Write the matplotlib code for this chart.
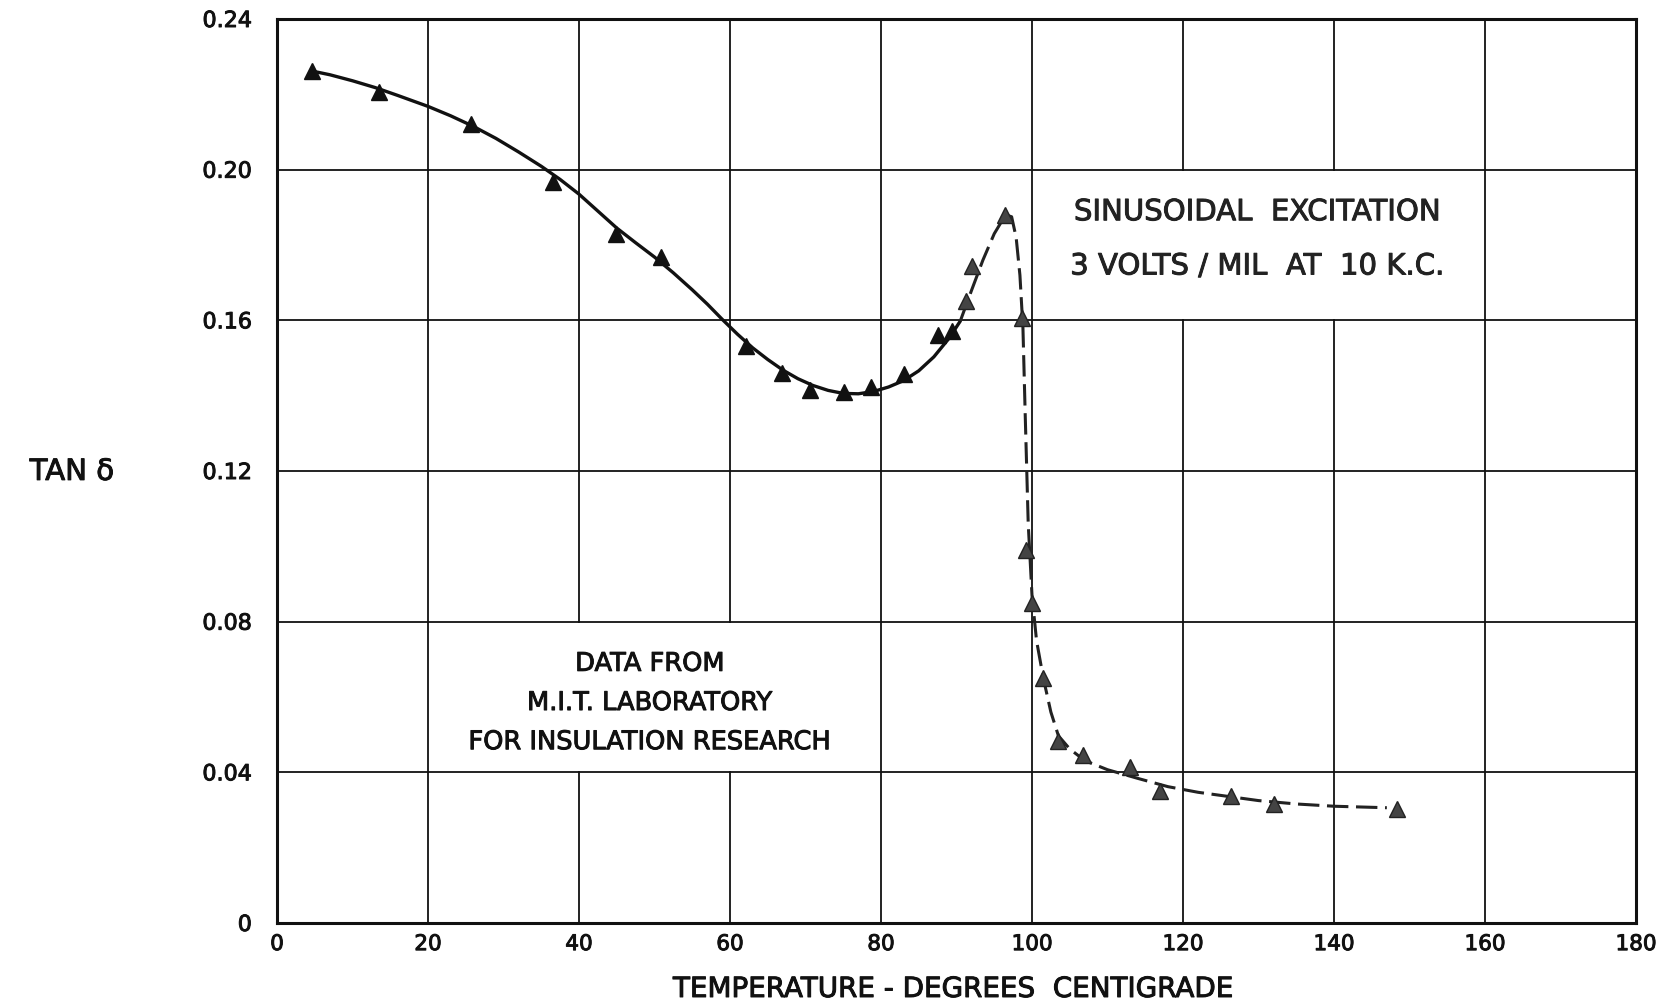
import matplotlib
matplotlib.use("Agg")
import matplotlib.pyplot as plt
from matplotlib.patches import Rectangle
import matplotlib.patheffects as pe

# ---- data ----
temps = [4.6, 13.5, 25.7, 36.6, 44.9, 50.9, 62.1, 66.9, 70.6, 75.1, 78.7, 83.1,
         87.5, 89.4, 91.2, 92.0, 96.4, 98.7, 99.2, 100.0, 101.5, 103.5, 106.8,
         113.0, 117.0, 126.3, 132.0, 148.4]
tan_delta = [0.2262, 0.2207, 0.2122, 0.1966, 0.1830, 0.1768, 0.1533, 0.1460,
             0.1415, 0.1410, 0.1424, 0.1457, 0.1562, 0.1572, 0.1652, 0.1745,
             0.1880, 0.1605, 0.0990, 0.0850, 0.0650, 0.0482, 0.0445, 0.0413,
             0.0350, 0.0336, 0.0317, 0.0302]

# fitted curve as drawn in the original
curve_x = [4.6, 7, 10, 13, 16, 20, 23, 26, 29, 32, 35, 37.5, 40, 42.5, 45, 47.5,
           50, 52.5, 55, 57, 59, 61, 63, 65, 67, 69, 71, 73, 75, 77, 79, 81, 83,
           85, 87, 89, 90.5, 92, 93.5, 95, 96.5, 97.3, 97.9, 98.4, 98.8, 99.1,
           99.5, 100.0, 100.6, 101.5, 102.5, 103.5, 105, 107, 110, 114, 118,
           122, 126, 130, 135, 140, 147]
curve_y = [0.2262, 0.2252, 0.2236, 0.2218, 0.2197, 0.2168, 0.2143, 0.2115,
           0.2083, 0.2047, 0.2009, 0.1974, 0.1935, 0.1890, 0.1845, 0.1806,
           0.1768, 0.1726, 0.1681, 0.1643, 0.1602, 0.1563, 0.1527, 0.1496,
           0.1468, 0.1445, 0.1427, 0.1414, 0.1406, 0.1405, 0.1411, 0.1423,
           0.1440, 0.1466, 0.1503, 0.1552, 0.1598, 0.1680, 0.1760, 0.1830,
           0.1880, 0.1875, 0.1820, 0.1720, 0.1580, 0.1350, 0.1060, 0.0870,
           0.0750, 0.0650, 0.0560, 0.0497, 0.0462, 0.0431, 0.0407, 0.0384,
           0.0362, 0.0347, 0.0336, 0.0325, 0.0316, 0.0310, 0.0306]
split_x = 91.0  # beyond this the original trace is broken / faint

x_ticks = [0, 20, 40, 60, 80, 100, 120, 140, 160, 180]
y_ticks = [0, 0.04, 0.08, 0.12, 0.16, 0.20, 0.24]
y_tick_labels = ["0", "0.04", "0.08", "0.12", "0.16", "0.20", "0.24"]

note1 = ["DATA FROM", "M.I.T. LABORATORY", "FOR INSULATION RESEARCH"]
note2 = ["SINUSOIDAL  EXCITATION", "3 VOLTS / MIL  AT  10 K.C."]

plt.rcParams['font.family'] = ['DejaVu Sans']
INK = '#111111'
thick = [pe.withStroke(linewidth=0.7, foreground=INK)]
thick2 = [pe.withStroke(linewidth=0.7, foreground='#222222')]

fig = plt.figure(figsize=(16.58, 10.03), dpi=100)
ax = fig.add_axes([277/1658, 79/1003, 1359/1658, 904/1003])

ax.set_xlim(0, 180)
ax.set_ylim(0, 0.24)
ax.set_xticks(x_ticks)
ax.set_xticklabels([str(v) for v in x_ticks], fontsize=15.5)
ax.set_yticks(y_ticks)
ax.set_yticklabels(y_tick_labels, fontsize=16)
for lab in ax.get_xticklabels() + ax.get_yticklabels():
    lab.set_path_effects(thick)
ax.tick_params(axis='both', length=0, colors=INK)
ax.tick_params(axis='y', pad=18)
ax.tick_params(axis='x', pad=8)

ax.grid(True, color=INK, linewidth=1.3)
ax.set_axisbelow(True)
for s in ax.spines.values():
    s.set_linewidth(2.2)
    s.set_color(INK)

# white note boxes hiding the grid inside them
ax.add_patch(Rectangle((20.3, 0.0404), 59.4, 0.0392, facecolor='white',
                       edgecolor='none', zorder=1))
ax.add_patch(Rectangle((100.3, 0.1604), 59.4, 0.0392, facecolor='white',
                       edgecolor='none', zorder=1))

# curve
cx1 = [x for x in curve_x if x <= split_x]
cy1 = [y for x, y in zip(curve_x, curve_y) if x <= split_x]
cx2 = [x for x in curve_x if x >= 90.5]
cy2 = [y for x, y in zip(curve_x, curve_y) if x >= 90.5]
ax.plot(cx1, cy1, color=INK, linewidth=2.4, zorder=3,
        solid_joinstyle='round', solid_capstyle='round')
ax.plot(cx2, cy2, color='#222222', linewidth=2.2, linestyle=(0, (7, 2.5)),
        zorder=3, dash_joinstyle='round')

# markers
left_t = [t for t in temps if t <= split_x]
left_v = [v for t, v in zip(temps, tan_delta) if t <= split_x]
right_t = [t for t in temps if t > split_x]
right_v = [v for t, v in zip(temps, tan_delta) if t > split_x]
ax.plot(left_t, left_v, linestyle='none', marker='^', markersize=11.5,
        markerfacecolor=INK, markeredgecolor=INK, zorder=4)
ax.plot(right_t, right_v, linestyle='none', marker='^', markersize=11.5,
        markerfacecolor='#444444', markeredgecolor='#222222', zorder=4)

# notes
for txt, y in zip(note1, [0.0688, 0.0584, 0.0480]):
    ax.text(49.4, y, txt, ha='center', va='center', fontsize=18.5,
            color=INK, zorder=5, path_effects=thick)
for txt, y in zip(note2, [0.1887, 0.1743]):
    ax.text(129.8, y, txt, ha='center', va='center', fontsize=21,
            color='#222222', zorder=5, path_effects=thick2)

ax.set_xlabel("TEMPERATURE - DEGREES  CENTIGRADE", fontsize=20, color=INK)
ax.xaxis.set_label_coords(0.4975, -0.073)
ax.xaxis.label.set_va('center')
ax.xaxis.label.set_path_effects(thick)

ax.set_ylabel("TAN δ", fontsize=21, rotation=0, color=INK)
ax.yaxis.set_label_coords(-0.151, 0.499)
ax.yaxis.label.set_va('center')
ax.yaxis.label.set_ha('center')
ax.yaxis.label.set_path_effects(thick)

fig.savefig("out.png", dpi=100, facecolor='white')
